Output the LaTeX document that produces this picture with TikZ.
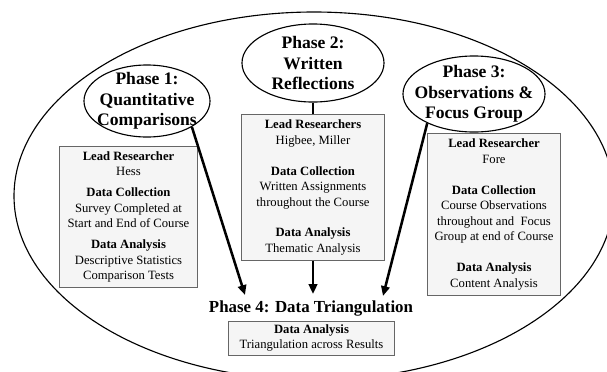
\documentclass[tikz,border=0pt]{standalone}
\usepackage{fontspec}
\setmainfont{Liberation Serif}
\usetikzlibrary{shapes.geometric,arrows.meta}

\begin{document}
\begin{tikzpicture}[x=0.025cm,y=-0.025cm]
  % Styles
  \tikzstyle{phase}=[ellipse,draw,line width=0.8pt,inner sep=-10pt,align=center,
    font=\fontsize{12.5}{14.4}\selectfont\bfseries]
  \tikzstyle{info box}=[draw=gray!80!black,fill=gray!8,line width=0.7pt,
    inner sep=0pt,align=center,font=\fontsize{9}{11}\selectfont]
  \tikzstyle{heavy line}=[line width=1.8pt]
  \tikzstyle{heavy arrow}=[heavy line,-{Triangle[length=7pt,width=6pt]}]

  \useasboundingbox (0,0) rectangle (607,371);

  % Outer frame
  \draw[line width=0.8pt] (314,196) ellipse (300 and 184);

  % Phases
  \node[phase,minimum width=3.15cm,minimum height=1.8cm] (p1) at (147,101)
    {Phase 1:\\Quantitative\\Comparisons};
  \node[phase,minimum width=3.55cm,minimum height=1.95cm] (p2) at (313,63)
    {Phase 2:\\Written\\Reflections};
  \node[phase,minimum width=3.55cm,minimum height=1.9cm] (p3) at (474,94)
    {Phase 3:\\Observations \&\\Focus Group};
  \node[font=\fontsize{12}{14}\selectfont\bfseries,inner sep=0pt] (p4) at (311,309)
    {Phase 4: Data Triangulation};

  % Details of each phase
  \node[info box,minimum width=3.425cm,minimum height=3.5cm] (b1) at (128.5,217)
    {\textbf{Lead Researcher}\\Hess\\[4pt]
     \textbf{Data Collection}\\Survey Completed at\\Start and End of Course\\[4pt]
     \textbf{Data Analysis}\\Descriptive Statistics\\Comparison Tests};
  \node[info box,minimum width=3.55cm,minimum height=3.625cm] (b2) at (313,187.5)
    {\textbf{Lead Researchers}\\Higbee, Miller\\[11pt]
     \textbf{Data Collection}\\Written Assignments\\throughout the Course\\[11pt]
     \textbf{Data Analysis}\\Thematic Analysis};
  \node[info box,minimum width=3.3cm,minimum height=4.025cm] (b3) at (494,214.5)
    {\textbf{Lead Researcher}\\Fore\\[11pt]
     \textbf{Data Collection}\\Course Observations\\throughout and~ Focus\\Group at end of Course\\[11pt]
     \textbf{Data Analysis}\\Content Analysis};
  \node[info box,minimum width=4.125cm,minimum height=0.85cm] (b4) at (311.5,338)
    {\textbf{Data Analysis}\\Triangulation across Results};

  % Arrow ends above the last phase
  \coordinate (t1) at (245,295);
  \coordinate (t2) at (313,294);
  \coordinate (t3) at (383,296);

  \draw[heavy arrow] (p1.-30) -- (t1);
  \draw[heavy line] (p2.south) -- (b2.north);
  \draw[heavy arrow] (b2.south) -- (t2);
  \draw[heavy arrow] (p3.-148) -- (t3);
\end{tikzpicture}
\end{document}
